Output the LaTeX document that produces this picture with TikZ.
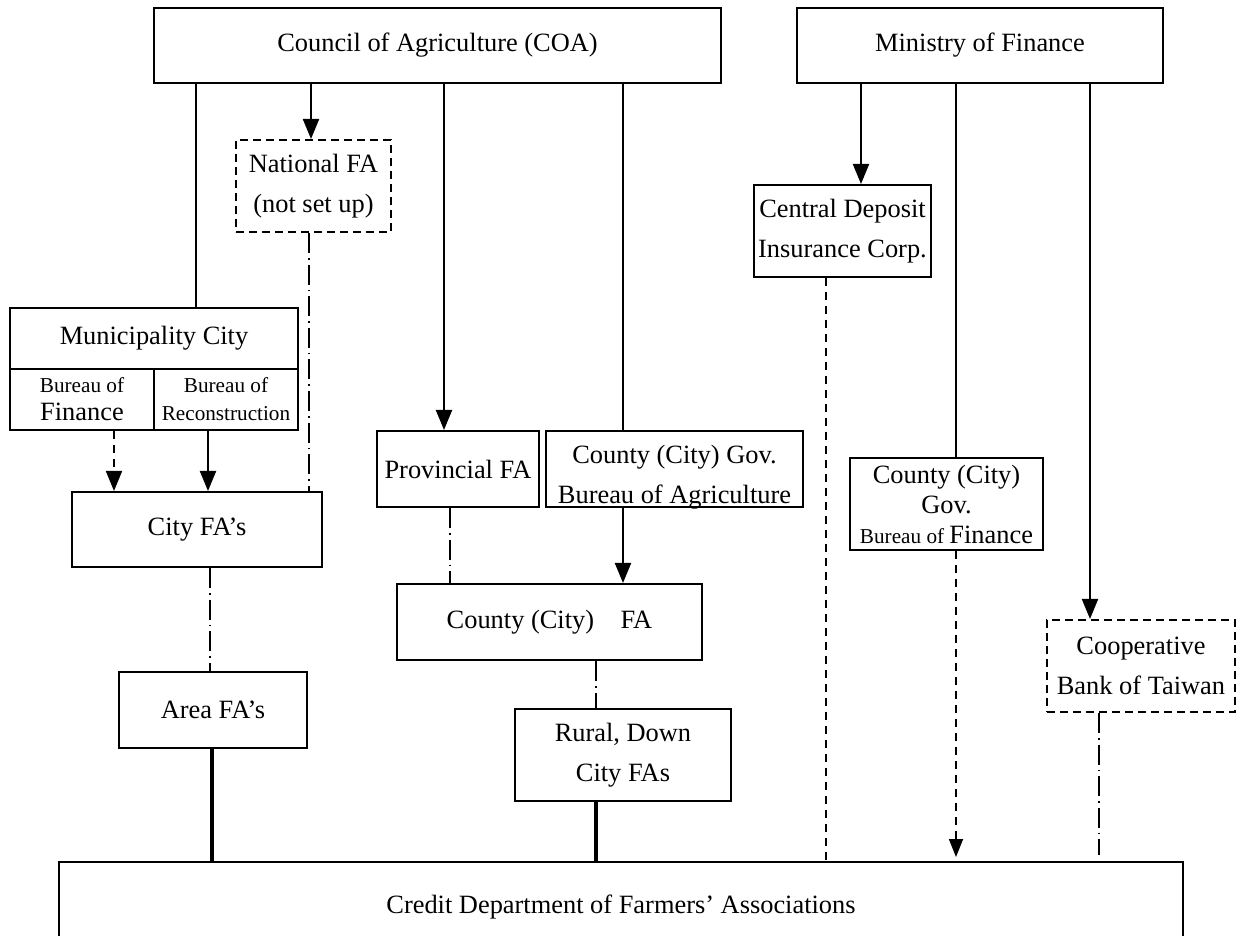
\documentclass[tikz,border=0pt]{standalone}
\usepackage{fontspec}
\setmainfont{Liberation Serif}
\usetikzlibrary{arrows.meta}
\newcommand\normsize{\fontsize{13.2}{20}\selectfont}
\newcommand\smallsize{\fontsize{10.6}{14}\selectfont}

\begin{document}
\begin{tikzpicture}[x=0.5pt,y=-0.5pt,
    box/.style={draw, line width=1pt, inner sep=0pt, align=center, font=\normsize},
    dbox/.style={box, dash pattern=on 4pt off 2.5pt},
    span/.style args={#1/#2/#3/#4}{minimum width={(#3-#1)*0.5pt}, minimum height={(#4-#2)*0.5pt},
        at={({(#1+#3)/2},{(#2+#4)/2})}},
    link/.style={line width=1pt},
    arr/.style={link, -{Triangle[width=8pt,length=10pt]}},
    dashlink/.style={line width=0.9pt, dash pattern=on 4pt off 3pt},
    dotlink/.style={line width=0.9pt, dash pattern=on 10pt off 2.5pt on 0.8pt off 2.5pt},
    strong/.style={line width=1.8pt}]
    \useasboundingbox (0,0) rectangle (1239,936);
        % top offices
        \node[box, span=154/8/721/83] (coa) {Council of Agriculture (COA)};
        \node[box, span=797/8/1163/83] (mof) {Ministry of Finance};
        % agriculture side
        \node[dbox, span=236/140/391/232] (natfa) {National FA\\(not set up)};
        \node[box, span=10/308/298/369] (mun) {Municipality City};
        \node[box, span=10/369/154/430, font=\smallsize] (munfin) {Bureau of\\{\fontsize{13.2}{14}\selectfont Finance}};
        \node[box, span=154/369/298/430, font=\smallsize] (munrec) {Bureau of\\Reconstruction};
        \node[box, span=72/492/322/567] (cityfa) {City FA's};
        \node[box, span=119/672/307/748] (areafa) {Area FA's};
        \node[box, span=377/431/539/507] (provfa) {Provincial FA};
        \node[box, span=546/431/803/507] (cgovag) {};
        \node[anchor=south, inner sep=0pt, align=center, font=\normsize] (cgovagtxt)
            at ([yshift=-1pt]cgovag.south) {County (City) Gov.\\Bureau of Agriculture};
        \node[box, span=397/584/702/660] (countyfa) {County (City)\quad FA};
        \node[box, span=515/709/731/801] (rural) {Rural, Down\\City FAs};
        % finance side
        \node[box, span=754/185/931/277] (cdic) {Central Deposit\\Insurance Corp.};
        \node[box, span=850/458/1043/550, font=\fontsize{13.2}{15}\selectfont] (cgovfin)
            {County (City)\\Gov.\\{\smallsize Bureau of }Finance};
        \node[dbox, span=1047/620/1235/712] (coop) {Cooperative\\Bank of Taiwan};
        % bottom
        \node[box, span=59/862/1183/952] (credit) {Credit Department of Farmers' Associations};

        \draw[link] (coa.south -| 196,0) -- (mun.north -| 196,0);
        \draw[arr] (coa.south -| 311,0) -- (natfa.north -| 311,0);
        \draw[arr] (coa.south -| 444,0) -- (provfa.north -| 444,0);
        \draw[link] (coa.south -| 623,0) -- (cgovag.north -| 623,0);
        \draw[arr] (mof.south -| 861,0) -- (cdic.north -| 861,0);
        \draw[link] (mof.south -| 956,0) -- (cgovfin.north -| 956,0);
        \draw[arr] (mof.south -| 1090,0) -- (coop.north -| 1090,0);

        \draw[dotlink] (natfa.south -| 309,0) -- (cityfa.north -| 309,0);
        \draw[dashlink, -{Triangle[width=8pt,length=10pt]}] (munfin.south -| 114,0) -- (cityfa.north -| 114,0);
        \draw[arr] (munrec.south -| 208,0) -- (cityfa.north -| 208,0);
        \draw[dotlink] (cityfa.south -| 210,0) -- (areafa.north -| 210,0);
        \draw[strong] (areafa.south -| 212,0) -- (credit.north -| 212,0);

        \draw[dotlink] (provfa.south -| 450,0) -- (countyfa.north -| 450,0);
        \draw[arr] (cgovag.south -| 623,0) -- (countyfa.north -| 623,0);
        \draw[dotlink] (countyfa.south -| 596,0) -- (rural.north -| 596,0);
        \draw[strong] (rural.south -| 596,0) -- (credit.north -| 596,0);

        \draw[dashlink] (cdic.south -| 826,0) -- (credit.north -| 826,0);
        \draw[dashlink, -{Triangle[width=7pt,length=9pt]}] (cgovfin.south -| 956,0) -- ([yshift=2pt]credit.north -| 956,0);
        \draw[dotlink] (coop.south -| 1099,0) -- ([yshift=3pt]credit.north -| 1099,0);
    \end{tikzpicture}
\end{document}
